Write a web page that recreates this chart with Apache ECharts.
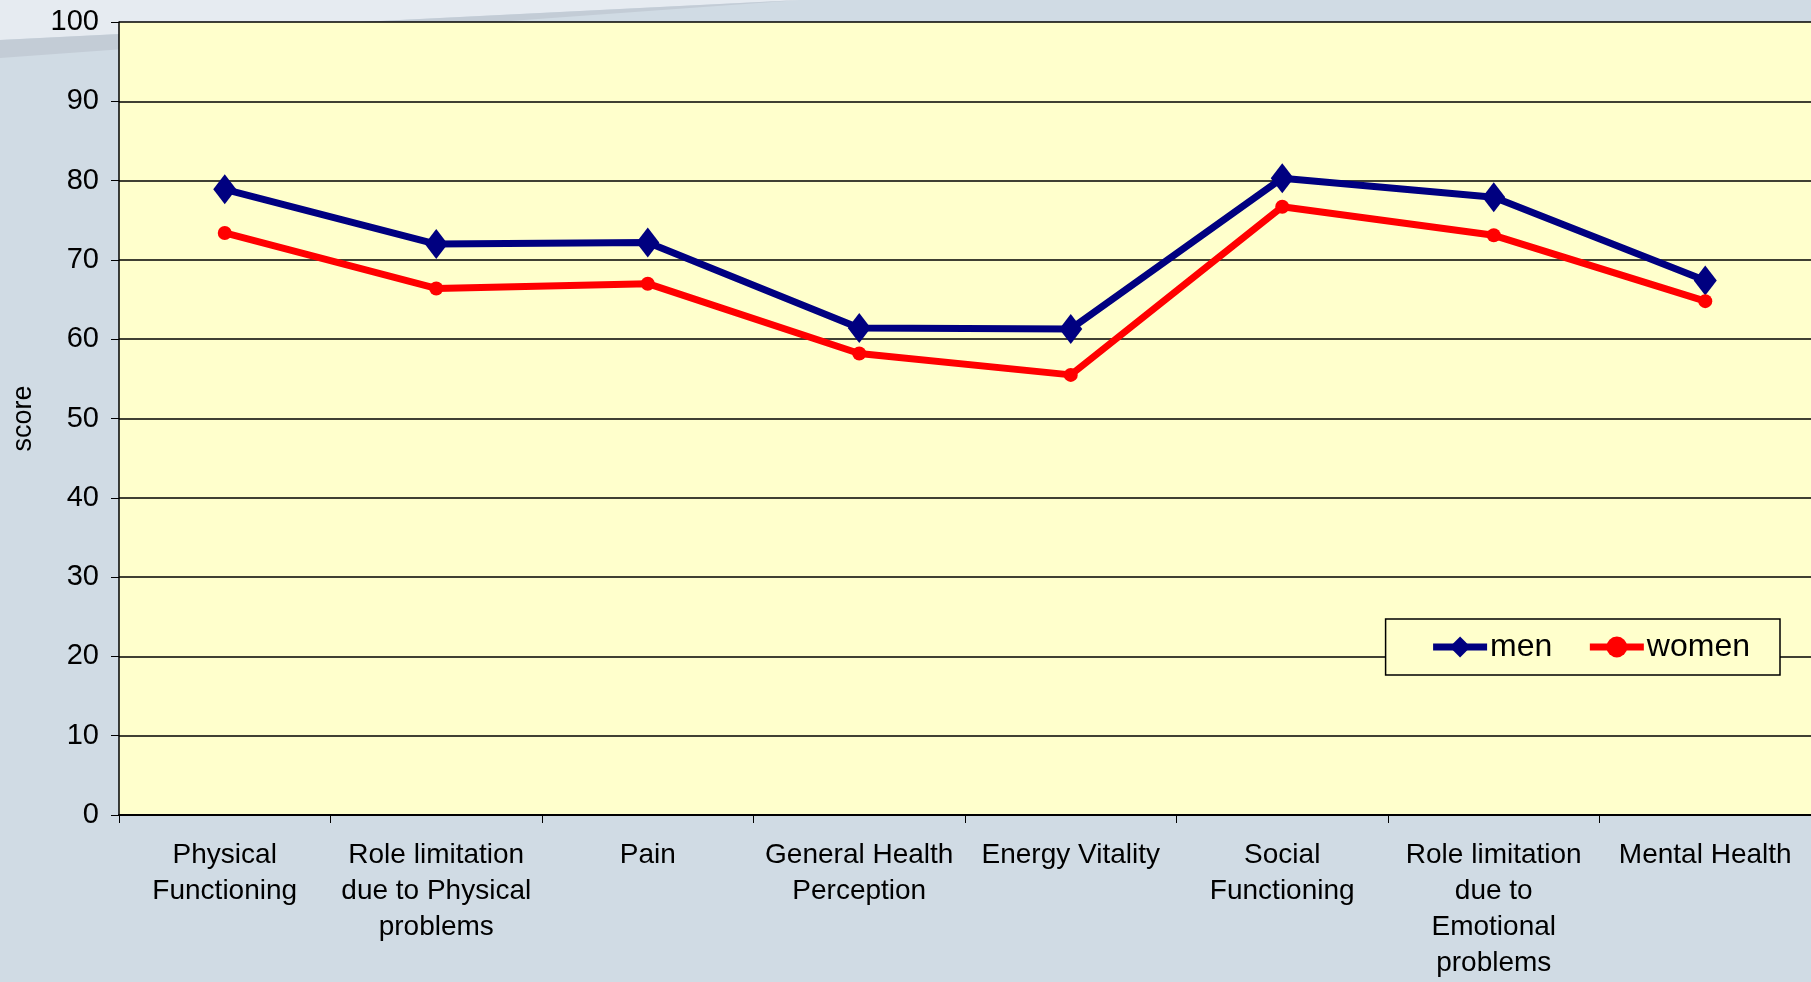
<!DOCTYPE html>
<html>
<head>
<meta charset="utf-8">
<script src="https://cdn.jsdelivr.net/npm/echarts@6/dist/echarts.min.js"></script>
<style>
  html, body { margin: 0; padding: 0; }
  #chart { width: 1811px; height: 982px; }
</style>
</head>
<body>
<div id="chart"></div>
<script>
// SF-36 domain scores
var categories = [
  'Physical\nFunctioning',
  'Role limitation\ndue to Physical\nproblems',
  'Pain',
  'General Health\nPerception',
  'Energy Vitality',
  'Social\nFunctioning',
  'Role limitation\ndue to\nEmotional\nproblems',
  'Mental Health'
];
var menScores = [78.9, 72.0, 72.2, 61.4, 61.3, 80.3, 77.9, 67.4];
var womenScores = [73.4, 66.4, 67.0, 58.2, 55.5, 76.7, 73.1, 64.8];

var chart = echarts.init(document.getElementById('chart'));
chart.setOption({
  animation: false,
  backgroundColor: '#d0dbe4',
  textStyle: { fontFamily: 'Liberation Sans', color: '#000' },
  graphic: [
    {
      type: 'polygon',
      silent: true,
      z: -10,
      shape: { points: [[0, 0], [800, 0], [0, 40]] },
      style: { fill: '#e6ebf1' }
    },
    {
      type: 'polygon',
      silent: true,
      z: -10,
      shape: { points: [[0, 40], [800, 0], [0, 58]] },
      style: { fill: '#c3ccd6' }
    }
  ],
  grid: {
    left: 119,
    right: 0,
    top: 22,
    bottom: 167,
    outerBoundsMode: 'none',
    show: true,
    backgroundColor: '#ffffcc',
    borderWidth: 0
  },
  legend: {
    right: 31,
    top: 619,
    orient: 'horizontal',
    backgroundColor: '#ffffcc',
    borderColor: '#000',
    borderWidth: 1.5,
    borderRadius: 0,
    padding: [12, 30, 12, 44],
    itemGap: 34,
    itemWidth: 54,
    itemHeight: 26,
    textStyle: { fontSize: 32, fontFamily: 'Liberation Sans', color: '#000', padding: [0, 0, 0, -2] },
    data: [
      { name: 'men', lineStyle: { width: 7 } },
      { name: 'women', lineStyle: { width: 7 } }
    ]
  },
  xAxis: {
    type: 'category',
    data: categories,
    boundaryGap: true,
    axisLine: { lineStyle: { color: '#000', width: 2 } },
    axisTick: { show: true, length: 8, lineStyle: { color: '#000', width: 1 } },
    axisLabel: {
      interval: 0,
      fontSize: 28,
      lineHeight: 36,
      margin: 22,
      color: '#000',
      fontFamily: 'Liberation Sans'
    }
  },
  yAxis: {
    type: 'value',
    min: 0,
    max: 100,
    interval: 10,
    name: 'score',
    nameLocation: 'middle',
    nameGap: 82,
    nameRotate: 90,
    nameTextStyle: { fontSize: 27, color: '#000', fontFamily: 'Liberation Sans' },
    axisLine: { show: true, lineStyle: { color: '#000', width: 1.5 } },
    axisTick: { show: true, length: 8, lineStyle: { color: '#000' } },
    axisLabel: { fontSize: 29, margin: 20, color: '#000', fontFamily: 'Liberation Sans' },
    splitLine: { show: true, lineStyle: { color: '#000', width: 1.5 } }
  },
  series: [
    {
      name: 'men',
      type: 'line',
      data: menScores,
      symbol: 'diamond',
      symbolSize: [23, 30],
      itemStyle: { color: '#000080' },
      lineStyle: { color: '#000080', width: 7 }
    },
    {
      name: 'women',
      type: 'line',
      data: womenScores,
      symbol: 'circle',
      symbolSize: 14,
      itemStyle: { color: '#ff0000' },
      lineStyle: { color: '#ff0000', width: 7 }
    }
  ]
});
</script>
</body>
</html>
